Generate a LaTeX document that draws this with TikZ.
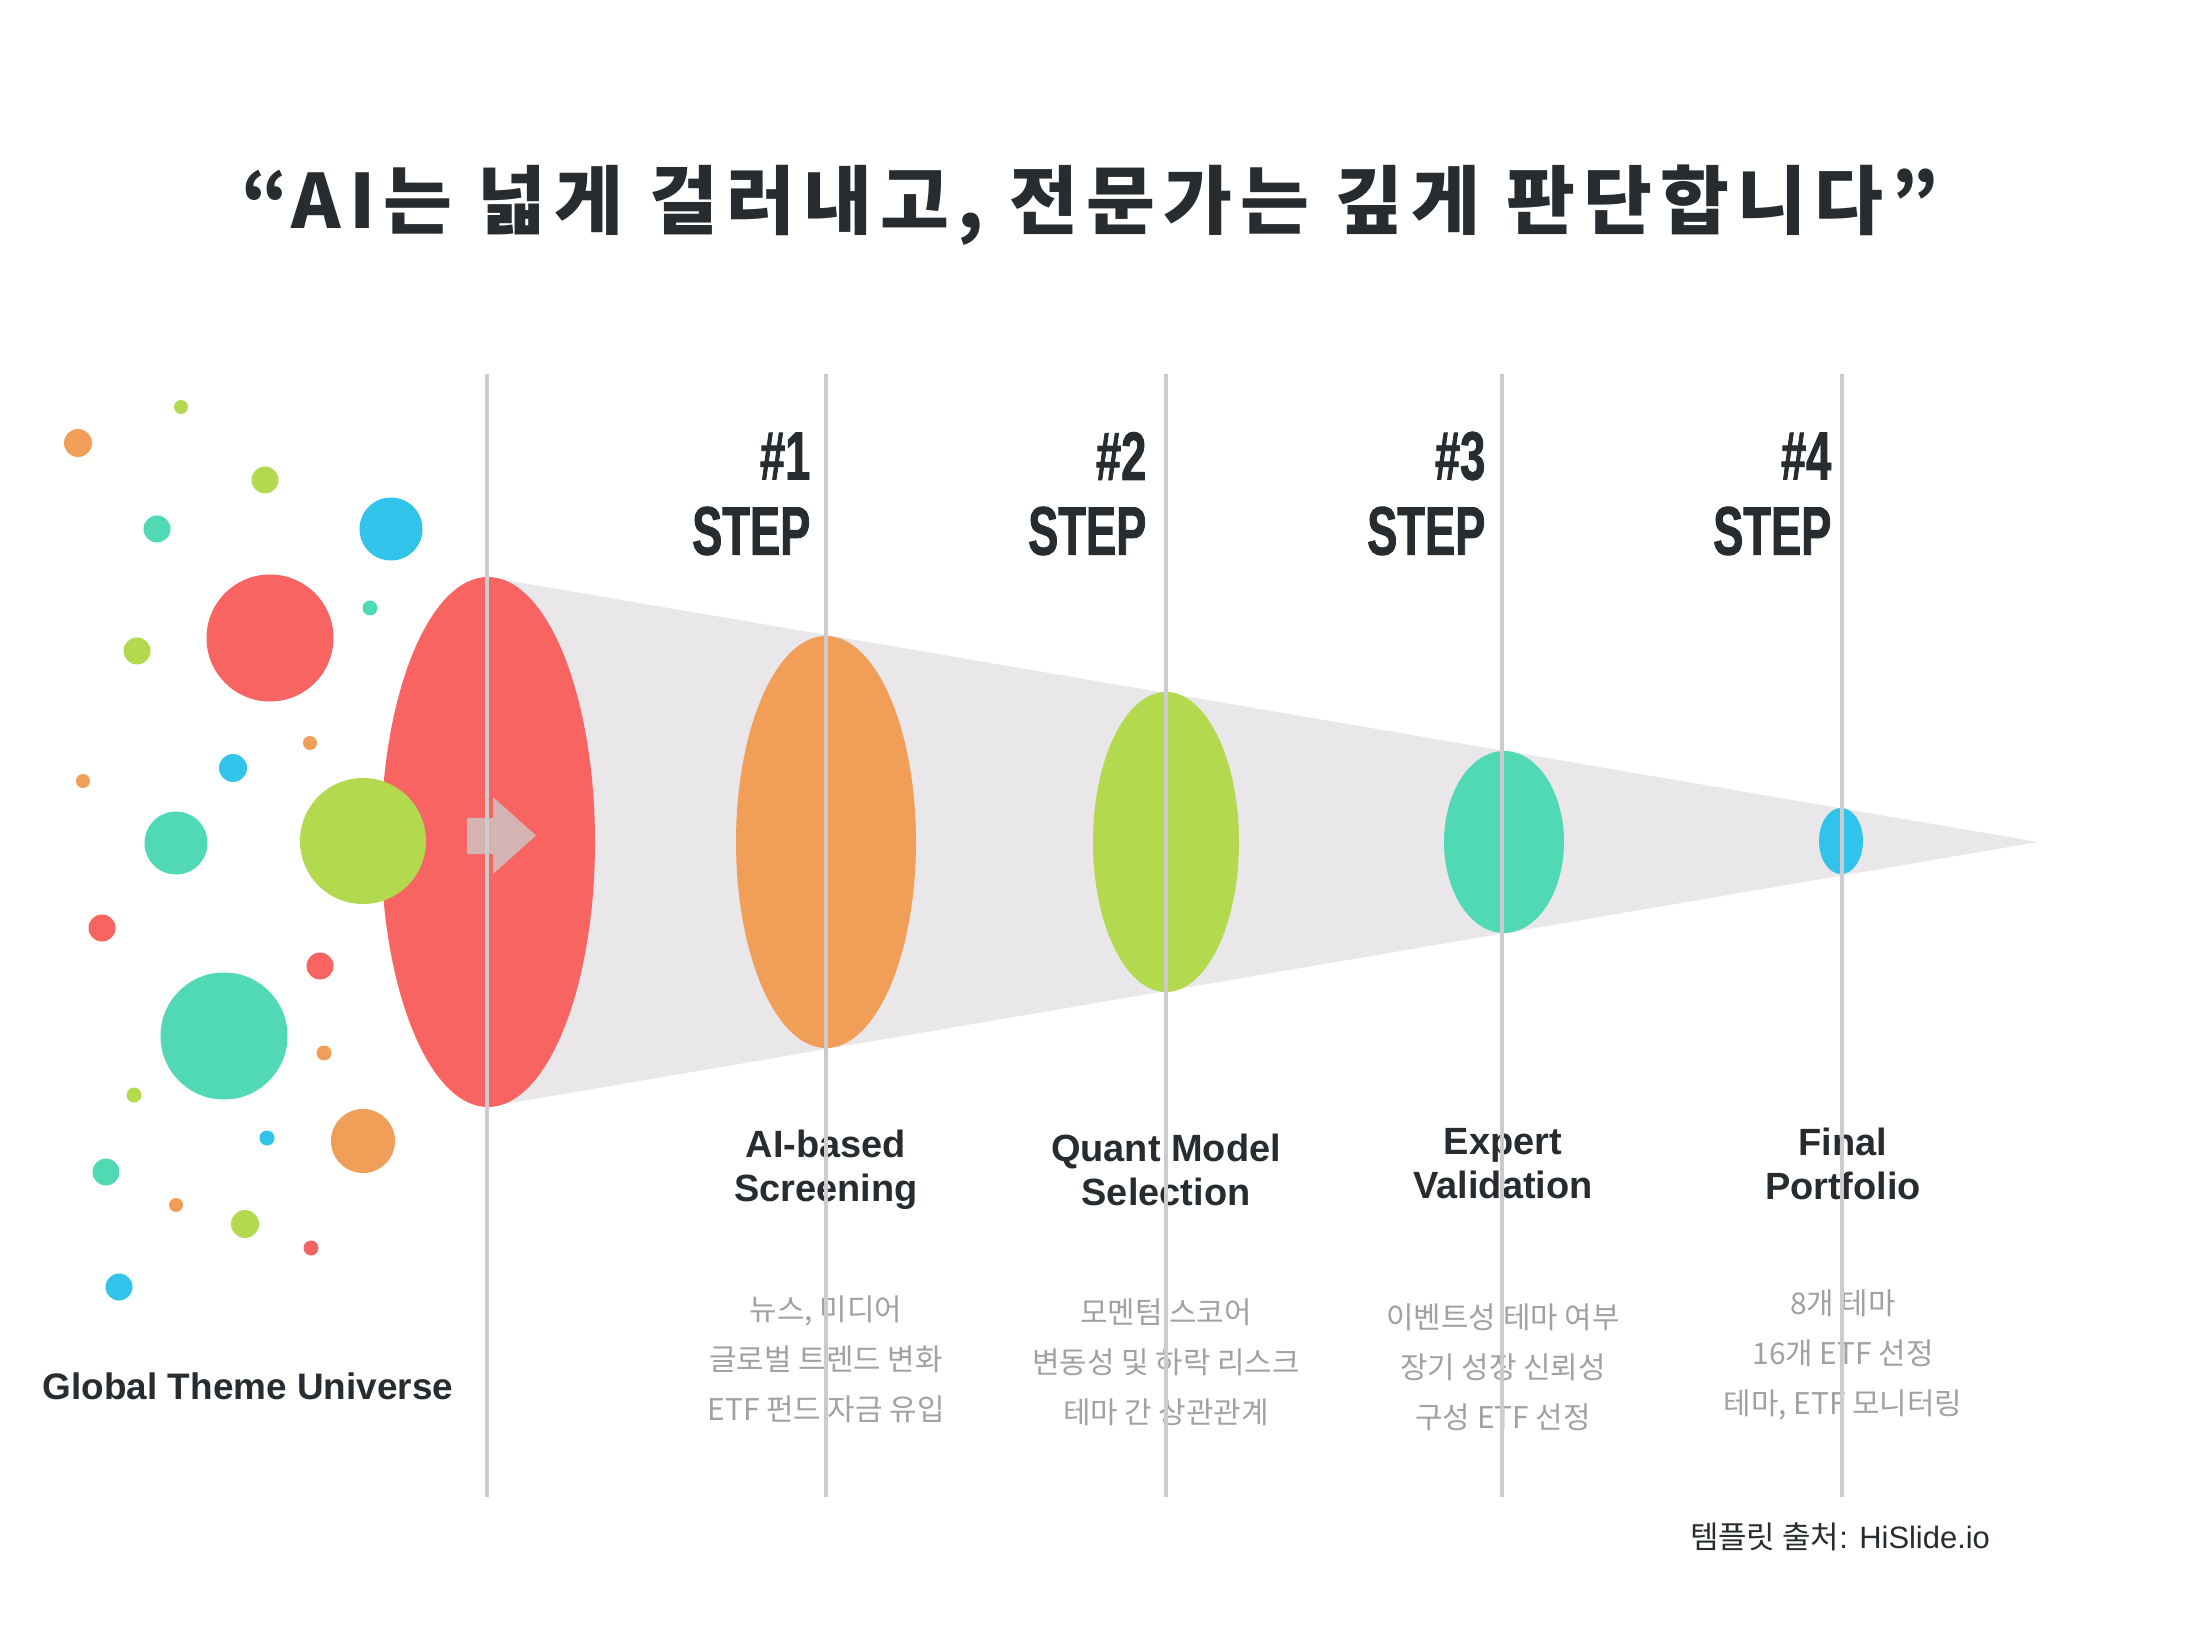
\documentclass[tikz,border=0pt]{standalone}
\usepackage{fontspec}
\setmainfont{Liberation Sans}
\newfontfamily\cjk{Noto Sans CJK KR}
\newfontfamily\cjkwide{Noto Sans CJK KR}[LetterSpace=11]
\newfontfamily\condensed{Liberation Sans}[FakeStretch=0.66,FakeBold=1.2]
\definecolor{ink}{HTML}{262C2F}
\definecolor{mute}{HTML}{A3A0A0}
\definecolor{rail}{HTML}{CDCBCE}
\definecolor{cone}{HTML}{E9E7EA}
\definecolor{cred}{HTML}{F76462}
\definecolor{corange}{HTML}{F09E58}
\definecolor{cgreen}{HTML}{B3DA4E}
\definecolor{cteal}{HTML}{50D9B4}
\definecolor{cblue}{HTML}{31C3EA}
\definecolor{pointer}{HTML}{D5B3B3}
\begin{document}
\begin{tikzpicture}[x=0.1mm,y=-0.1mm,
  stepnum/.style={anchor=east, inner sep=0pt, text=ink, font=\condensed\bfseries\fontsize{19.5}{20}\selectfont},
  stepname/.style={align=center, text=ink, font=\bfseries\fontsize{10.8}{12.5}\selectfont},
  stepdesc/.style={align=center, text=mute, font=\cjk\fontsize{8.5}{14.2}\selectfont},
  guide/.style={rail, line width=1.4pt}]
\useasboundingbox (0,0) rectangle (2188,1627);
\fill[white] (0,0) rectangle (2188,1627);
\node[text=ink, font=\cjkwide\bfseries\fontsize{21.3}{24}\selectfont] (title) at (1090,205) {“AI는 넓게 걸러내고, 전문가는 깊게 판단합니다”};

\fill[cone] (487,577) -- (2038,842) -- (487,1107) -- cycle;
\fill[cred] (488,842) ellipse [x radius=107, y radius=265];
\fill[corange] (826,842) ellipse [x radius=90, y radius=206];
\fill[cgreen] (1166,842) ellipse [x radius=73, y radius=150];
\fill[cteal] (1504,842) ellipse [x radius=60, y radius=91];
\fill[cblue] (1841,841) ellipse [x radius=22, y radius=33];

\fill[cgreen] (181,407) circle [radius=7];
\fill[corange] (78,443) circle [radius=14];
\fill[cgreen] (265,480) circle [radius=13.5];
\fill[cteal] (157,529) circle [radius=13.5];
\fill[cblue] (391,529) circle [radius=31.5];
\fill[cred] (270,638) circle [radius=63.5];
\fill[cteal] (370,608) circle [radius=7.5];
\fill[cgreen] (137,651) circle [radius=13.5];
\fill[corange] (310,743) circle [radius=7];
\fill[cblue] (233,768) circle [radius=14];
\fill[corange] (83,781) circle [radius=7];
\fill[cteal] (176,843) circle [radius=31.5];
\fill[cgreen] (363,841) circle [radius=63];
\fill[cred] (102,928) circle [radius=13.5];
\fill[cred] (320,966) circle [radius=13.5];
\fill[cteal] (224,1036) circle [radius=63.5];
\fill[corange] (324,1053) circle [radius=7.5];
\fill[cgreen] (134,1095) circle [radius=7.5];
\fill[cblue] (267,1138) circle [radius=7.5];
\fill[corange] (363,1141) circle [radius=32];
\fill[cteal] (106,1172) circle [radius=13.5];
\fill[corange] (176,1205) circle [radius=7];
\fill[cgreen] (245,1224) circle [radius=14];
\fill[cred] (311,1248) circle [radius=7.5];
\fill[cblue] (119,1287) circle [radius=13.5];

\fill[pointer] (467,818) -- (493,818) -- (493,797) -- (536,835.5) -- (493,874) -- (493,854) -- (467,854) -- cycle;

\node[stepnum] (num1) at (811,456) {\#1};
\node[stepnum] (step1) at (811,531) {STEP};
\node[stepnum] (num2) at (1147,456) {\#2};
\node[stepnum] (step2) at (1147,531) {STEP};
\node[stepnum] (num3) at (1486,456) {\#3};
\node[stepnum] (step3) at (1486,531) {STEP};
\node[stepnum] (num4) at (1832,456) {\#4};
\node[stepnum] (step4) at (1832,531) {STEP};

\node[stepname] (name1) at (826,1170) {AI-based\\Screening};
\node[stepname] (name2) at (1166,1170) {Quant Model\\Selection};
\node[stepname] (name3) at (1503,1164) {Expert\\Validation};
\node[stepname] (name4) at (1843,1164) {Final\\Portfolio};

\node[stepdesc] (desc1) at (826,1359) {뉴스, 미디어\\글로벌 트렌드 변화\\ETF 펀드 자금 유입};
\node[stepdesc] (desc2) at (1166,1362) {모멘텀 스코어\\변동성 및 하락 리스크\\테마 간 상관관계};
\node[stepdesc] (desc3) at (1503,1367) {이벤트성 테마 여부\\장기 성장 신뢰성\\구성 ETF 선정};
\node[stepdesc] (desc4) at (1843,1355) {8개 테마\\16개 ETF 선정\\테마, ETF 모니터링};

\node[text=ink, font=\bfseries\fontsize{10.5}{12}\selectfont] (universe) at (248,1386) {Global Theme Universe};
\node[text=ink, font=\fontsize{8.8}{10}\selectfont] (credit) at (1840,1537) {{\cjk 템플릿 출처}: HiSlide.io};

\draw[guide] (487,374) -- (487,1497);
\draw[guide] (826,374) -- (826,1497);
\draw[guide] (1166,374) -- (1166,1497);
\draw[guide] (1502,374) -- (1502,1497);
\draw[guide] (1842,374) -- (1842,1497);
\end{tikzpicture}
\end{document}
